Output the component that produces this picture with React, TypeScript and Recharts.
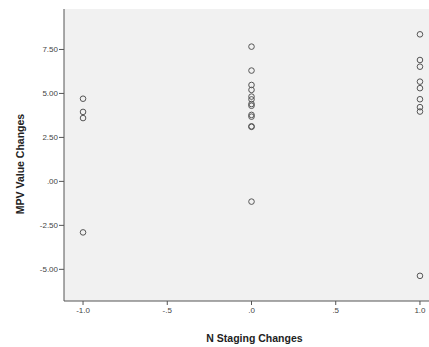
import { ScatterChart, Scatter, XAxis, YAxis, CartesianGrid } from "recharts";

// N staging change groups (-1, 0, 1) and the MPV value changes in each
const mpvDown = [4.7, 3.95, 3.6, -2.9];
const mpvSame = [7.66, 6.3, 5.48, 5.2, 4.82, 4.66, 4.4, 4.3, 3.78, 3.68, 3.13, 3.1, -1.15];
const mpvUp = [8.36, 6.9, 6.52, 5.67, 5.3, 4.67, 4.22, 3.97, -5.37];

const xTicks = [-1, -0.5, 0, 0.5, 1];
const yTicks = [-5, -2.5, 0, 2.5, 5, 7.5];

const data = [
  ...mpvDown.map((y) => ({ x: -1, y })),
  ...mpvSame.map((y) => ({ x: 0, y })),
  ...mpvUp.map((y) => ({ x: 1, y })),
];

const fmtX = (v: number) => {
  const s = v.toFixed(1);
  return s.replace(/^(-?)0\./, "$1.");
};
const fmtY = (v: number) => {
  const s = v.toFixed(2);
  return s.replace(/^(-?)0\./, "$1.");
};

const Ring = (props: any) => (
  <circle cx={props.cx} cy={props.cy} r={2.8} fill="none" stroke="#555" strokeWidth={1} />
);

const tickStyle = { fontSize: 8, fill: "#444", fontFamily: "Liberation Sans, Arial, sans-serif" };
const labelStyle = {
  fontSize: 10.5,
  fontWeight: 700,
  fill: "#222",
  fontFamily: "Liberation Sans, Arial, sans-serif",
};

const App = () => {
  return (
    <div style={{ position: "absolute", left: 0, top: 0, width: 429, height: 347, background: "#fff" }}>
      <ScatterChart width={429} height={347} margin={{ top: 9, right: -10, bottom: 0, left: 0 }}>
        <CartesianGrid horizontal={false} vertical={false} fill="#f1f1f1" />
        <XAxis
          xAxisId="top"
          orientation="top"
          type="number"
          dataKey="x"
          domain={[-1.113, 1.113]}
          height={0}
          tick={false}
          tickLine={false}
          axisLine={{ stroke: "#555" }}
        />
        <XAxis
          type="number"
          dataKey="x"
          domain={[-1.113, 1.113]}
          ticks={xTicks}
          tickFormatter={fmtX}
          height={46}
          tickSize={4}
          tickMargin={2}
          tick={tickStyle}
          axisLine={{ stroke: "#555" }}
          tickLine={{ stroke: "#555" }}
          label={{ value: "N Staging Changes", position: "insideBottom", offset: 5, dx: 3, style: labelStyle }}
        />
        <YAxis
          type="number"
          dataKey="y"
          domain={[-6.8, 9.8]}
          ticks={yTicks}
          tickFormatter={fmtY}
          width={64}
          tickSize={5}
          tickMargin={1}
          tick={tickStyle}
          axisLine={{ stroke: "#555" }}
          tickLine={{ stroke: "#555" }}
          label={{
            value: "MPV Value Changes",
            angle: -90,
            position: "insideLeft",
            offset: 20,
            dy: 9,
            style: { ...labelStyle, textAnchor: "middle" },
          }}
        />
        <Scatter data={data} shape={Ring} isAnimationActive={false} />
      </ScatterChart>
    </div>
  );
};

export default App;
